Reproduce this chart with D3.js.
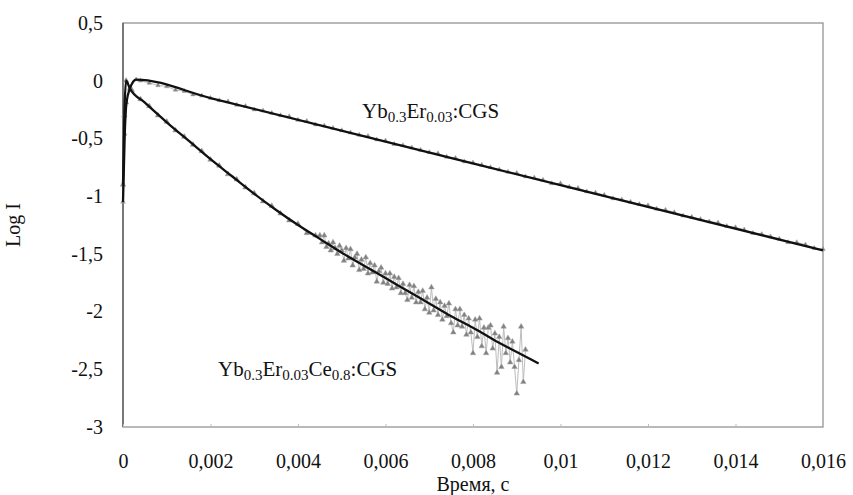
<!DOCTYPE html>
<html>
<head>
<meta charset="utf-8">
<script src="https://cdn.jsdelivr.net/npm/d3@7"></script>
<style>
  body { margin: 0; background: #fff; }
  svg { display: block; }
  text { font-family: "Liberation Serif", "DejaVu Serif", serif; fill: #111; }
</style>
</head>
<body>
<div id="chart"></div>
<script>
// axis ticks
var xTicks = [0, 0.002, 0.004, 0.006, 0.008, 0.01, 0.012, 0.014, 0.016];
var xTickLabels = ["0", "0,002", "0,004", "0,006", "0,008", "0,01", "0,012", "0,014", "0,016"];
var yTicks = [0.5, 0, -0.5, -1, -1.5, -2, -2.5, -3];
var yTickLabels = ["0,5", "0", "-0,5", "-1", "-1,5", "-2", "-2,5", "-3"];

// Yb0.3Er0.03:CGS - measured points
var timeA = [0, 0.00004, 0.00008, 0.00016, 0.0003, 0.0004, 0.0006, 0.0008, 0.001, 0.0012, 0.0014, 0.0016, 0.0018,
  0.002, 0.0022, 0.0024, 0.0026, 0.0028, 0.003, 0.0032, 0.0034, 0.0036, 0.0038, 0.004, 0.0042, 0.0044, 0.0046, 0.0048,
  0.005, 0.0052, 0.0054, 0.0056, 0.0058, 0.006, 0.0062, 0.0064, 0.0066, 0.0068, 0.007, 0.0072, 0.0074, 0.0076, 0.0078,
  0.008, 0.0082, 0.0084, 0.0086, 0.0088, 0.009, 0.0092, 0.0094, 0.0096, 0.0098, 0.01, 0.0102, 0.0104, 0.0106, 0.0108,
  0.011, 0.0112, 0.0114, 0.0116, 0.0118, 0.012, 0.0122, 0.0124, 0.0126, 0.0128, 0.013, 0.0132, 0.0134, 0.0136, 0.0138,
  0.014, 0.0142, 0.0144, 0.0146, 0.0148, 0.015, 0.0152, 0.0154, 0.0156, 0.0158, 0.016];
var logA = [-1.05, -0.46, -0.19, -0.06, 0.01, 0.00, -0.02, -0.04, -0.05, -0.08, -0.09, -0.12, -0.13,
  -0.15, -0.17, -0.18, -0.21, -0.22, -0.25, -0.26, -0.28, -0.30, -0.31, -0.34, -0.35, -0.38, -0.39, -0.41,
  -0.43, -0.45, -0.47, -0.48, -0.51, -0.52, -0.55, -0.56, -0.58, -0.60, -0.62, -0.63, -0.66, -0.67, -0.70,
  -0.71, -0.73, -0.75, -0.77, -0.79, -0.80, -0.83, -0.84, -0.86, -0.89, -0.89, -0.92, -0.93, -0.96, -0.97,
  -0.99, -1.02, -1.03, -1.05, -1.07, -1.08, -1.11, -1.12, -1.14, -1.17, -1.18, -1.20, -1.22, -1.23, -1.26,
  -1.27, -1.29, -1.32, -1.33, -1.35, -1.37, -1.40, -1.40, -1.42, -1.45, -1.46];

// Yb0.3Er0.03:CGS - fitted curve
var fitTimeA = [0, 0.00004, 0.00008, 0.00016, 0.0003, 0.002, 0.006, 0.01, 0.016];
var fitLogA = [-1.05, -0.46, -0.19, -0.065, 0.01, -0.15, -0.527, -0.905, -1.47];

// Yb0.3Er0.03Ce0.8:CGS - measured points
var timeB = [0, 0.00003, 0.00007, 0.00016, 0.0002, 0.0004, 0.0006, 0.0008, 0.001, 0.0012, 0.0014, 0.0016, 0.0018,
  0.002, 0.0022, 0.0024, 0.0026, 0.0028, 0.003, 0.0032, 0.0034, 0.0036, 0.0038, 0.004, 0.0042, 0.0044,
  0.0045, 0.00455, 0.0046, 0.00465, 0.0047, 0.00475, 0.0048, 0.00485, 0.0049, 0.00495,
  0.005, 0.00505, 0.0051, 0.00515, 0.0052, 0.00525, 0.0053, 0.00535, 0.0054, 0.00545,
  0.0055, 0.00555, 0.0056, 0.00565, 0.0057, 0.00575, 0.0058, 0.00585, 0.0059, 0.00595,
  0.006, 0.00605, 0.0061, 0.00615, 0.0062, 0.00625, 0.0063, 0.00635, 0.0064, 0.00645,
  0.0065, 0.00655, 0.0066, 0.00665, 0.0067, 0.00675, 0.0068, 0.00685, 0.0069, 0.00695,
  0.007, 0.00705, 0.0071, 0.00715, 0.0072, 0.00725, 0.0073, 0.00735, 0.0074, 0.00745,
  0.0075, 0.00755, 0.0076, 0.00765, 0.0077, 0.00775, 0.0078, 0.00785, 0.0079, 0.00795,
  0.008, 0.00805, 0.0081, 0.00815, 0.0082, 0.00825, 0.0083, 0.00835, 0.0084, 0.00845,
  0.0085, 0.00855, 0.0086, 0.00865, 0.0087, 0.00875, 0.0088, 0.00885, 0.0089, 0.00895,
  0.009, 0.00905, 0.0091, 0.00915, 0.0092];
var logB = [-0.9, -0.3, 0.0, -0.07, -0.08, -0.16, -0.22, -0.30, -0.355, -0.43, -0.485, -0.555, -0.61,
  -0.685, -0.735, -0.81, -0.855, -0.925, -0.975, -1.045, -1.085, -1.15, -1.21, -1.24, -1.32, -1.34,
  -1.34, -1.40, -1.34, -1.44, -1.41, -1.47, -1.40, -1.45, -1.50, -1.43,
  -1.47, -1.56, -1.45, -1.54, -1.46, -1.60, -1.53, -1.50, -1.64, -1.55,
  -1.63, -1.53, -1.67, -1.58, -1.66, -1.60, -1.74, -1.65, -1.62, -1.75,
  -1.67, -1.76, -1.67, -1.80, -1.70, -1.79, -1.71, -1.84, -1.76, -1.84,
  -1.90, -1.77, -1.88, -1.78, -1.92, -1.83, -1.92, -1.82, -1.98, -1.88,
  -2.01, -1.79, -1.99, -1.89, -2.03, -1.92, -2.07, -1.95, -2.04, -1.93,
  -2.10, -2.18, -1.98, -2.12, -1.98, -2.13, -2.03, -2.20, -2.06, -2.18,
  -2.36, -2.07, -2.22, -2.06, -2.30, -2.14, -2.36, -2.14, -2.12, -2.32,
  -2.19, -2.53, -2.22, -2.48, -2.13, -2.36, -2.23, -2.44, -2.26, -2.48,
  -2.71, -2.42, -2.13, -2.61, -2.33];

// Yb0.3Er0.03Ce0.8:CGS - fitted curve
var fitTimeB = [0, 0.00003, 0.00007, 0.00016, 0.0005, 0.001, 0.0015, 0.002, 0.0025, 0.003, 0.0035, 0.004,
  0.0045, 0.005, 0.0055, 0.006, 0.0065, 0.007, 0.0075, 0.008, 0.0085, 0.009, 0.0095];
var fitLogB = [-0.9, -0.3, 0.0, -0.07, -0.19, -0.36, -0.52, -0.68, -0.83, -0.98, -1.12, -1.25,
  -1.37, -1.49, -1.60, -1.71, -1.82, -1.93, -2.04, -2.14, -2.25, -2.35, -2.45];

var margin = {top: 23, right: 30, bottom: 68, left: 123},
    width = 853 - margin.left - margin.right,
    height = 495 - margin.top - margin.bottom;

var svg = d3.select("#chart").append("svg")
    .attr("width", 853)
    .attr("height", 495);

var g = svg.append("g")
    .attr("transform", "translate(" + margin.left + "," + margin.top + ")");

var x = d3.scaleLinear().domain([0, 0.016]).range([0, width]);
var y = d3.scaleLinear().domain([-3, 0.5]).range([height, 0]);

// plot frame
g.append("rect")
  .attr("x", 0).attr("y", 0)
  .attr("width", width).attr("height", height)
  .style("fill", "none")
  .style("stroke", "#8a8a8a")
  .style("stroke-width", 1.2);
g.append("line")
  .attr("x1", 0).attr("x2", 0).attr("y1", 0).attr("y2", height)
  .style("stroke", "#555").style("stroke-width", 1.3);

// axes (labels only, small inside ticks on x)
var xAxis = g.append("g")
  .attr("transform", "translate(0," + height + ")")
  .call(d3.axisBottom(x).tickValues(xTicks).tickSize(-3).tickPadding(27)
    .tickFormat(function(d, i) { return xTickLabels[i]; }));
xAxis.select(".domain").remove();
xAxis.selectAll("line").style("stroke", "#bbb");
xAxis.selectAll("text").style("font-size", "20px").style("font-family", "Liberation Serif").style("fill", "#111");

var yAxis = g.append("g")
  .call(d3.axisLeft(y).tickValues(yTicks).tickSize(0).tickPadding(20)
    .tickFormat(function(d, i) { return yTickLabels[i]; }));
yAxis.select(".domain").remove();
yAxis.selectAll("text").style("font-size", "20px").style("font-family", "Liberation Serif").style("fill", "#111");

// measured data: thin grey line + triangles
function drawData(times, vals, size) {
  var pts = times.map(function(t, i) { return [t, vals[i]]; });
  g.append("path")
    .datum(pts)
    .attr("d", d3.line().x(function(d) { return x(d[0]); }).y(function(d) { return y(d[1]); }))
    .style("fill", "none")
    .style("stroke", "#bdbdbd")
    .style("stroke-width", 1);
  g.append("g").selectAll("path")
    .data(pts)
    .enter().append("path")
    .attr("transform", function(d) { return "translate(" + x(d[0]) + "," + y(d[1]) + ")"; })
    .attr("d", d3.symbol(d3.symbolTriangle).size(size))
    .style("fill", "#808080")
    .style("stroke", "#a0a0a0")
    .style("stroke-width", 0.5);
}

function drawFit(times, vals) {
  var pts = times.map(function(t, i) { return [t, vals[i]]; });
  g.append("path")
    .datum(pts)
    .attr("d", d3.line().curve(d3.curveMonotoneX)
      .x(function(d) { return x(d[0]); }).y(function(d) { return y(d[1]); }))
    .style("fill", "none")
    .style("stroke", "#111")
    .style("stroke-width", 2.3)
    .style("stroke-linejoin", "round");
}

drawData(timeA, logA, 9);
drawData(timeB, logB, 13);
drawFit(fitTimeA, fitLogA);
drawFit(fitTimeB, fitLogB);

// series labels with subscripts
function seriesLabel(xp, yp, parts) {
  var t = svg.append("text")
    .attr("x", xp).attr("y", yp)
    .style("font-size", "21px");
  parts.forEach(function(p) {
    var s = t.append("tspan").text(p[0]);
    if (p[1] == "sub") {
      s.style("font-size", "15px").attr("dy", 4);
    } else if (p[1] == "up") {
      s.attr("dy", -4);
    }
  });
}
seriesLabel(362, 118, [["Yb"], ["0.3", "sub"], ["Er", "up"], ["0.03", "sub"], [":CGS", "up"]]);
seriesLabel(218, 376, [["Yb"], ["0.3", "sub"], ["Er", "up"], ["0.03", "sub"], ["Ce", "up"], ["0.8", "sub"], [":CGS", "up"]]);

// axis titles
svg.append("text")
  .attr("transform", "translate(20," + (margin.top + height / 2) + ") rotate(-90)")
  .attr("text-anchor", "middle")
  .style("font-size", "20px")
  .text("Log I");

svg.append("text")
  .attr("x", margin.left + width / 2)
  .attr("y", 490.5)
  .attr("text-anchor", "middle")
  .style("font-size", "20px")
  .text("Время, с");
</script>
</body>
</html>
